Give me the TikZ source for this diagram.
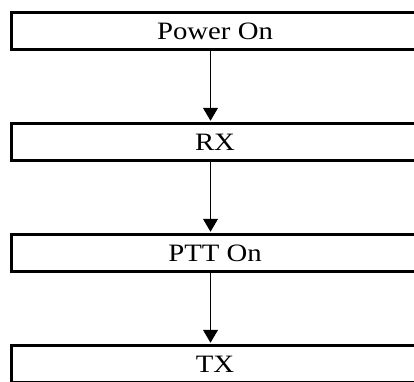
\documentclass[tikz,border=0pt]{standalone}
\usepackage{fontspec}
\setmainfont{Liberation Serif}[FakeStretch=1.15]
\usetikzlibrary{arrows.meta}

\begin{document}
\begin{tikzpicture}[x=1pt, y=1pt]
			\tikzset{state/.style={draw, line width=3pt, rectangle, inner sep=0pt, minimum width=407pt, minimum height=36.5pt, font=\fontsize{25}{30}\selectfont}}
			\tikzset{flow/.style={line width=1pt, -{Triangle[width=15pt, length=13pt]}, shorten >=1.5pt}}
			
			\useasboundingbox (0,0) rectangle (414,381);
			
			\node[state] (s_1) at (215,350) {Power On};
			\node[state] (s_2) at (215,239) {RX};
			\node[state] (s_3) at (215,128) {PTT On};
			\node[state] (s_4) at (215,17) {TX};
			
			\draw[flow] ([xshift=-4.5pt]s_1.south) -- ([xshift=-4.5pt]s_2.north);
			\draw[flow] ([xshift=-4.5pt]s_2.south) -- ([xshift=-4.5pt]s_3.north);
			\draw[flow] ([xshift=-4.5pt]s_3.south) -- ([xshift=-4.5pt]s_4.north);
			
		\end{tikzpicture}
\end{document}
